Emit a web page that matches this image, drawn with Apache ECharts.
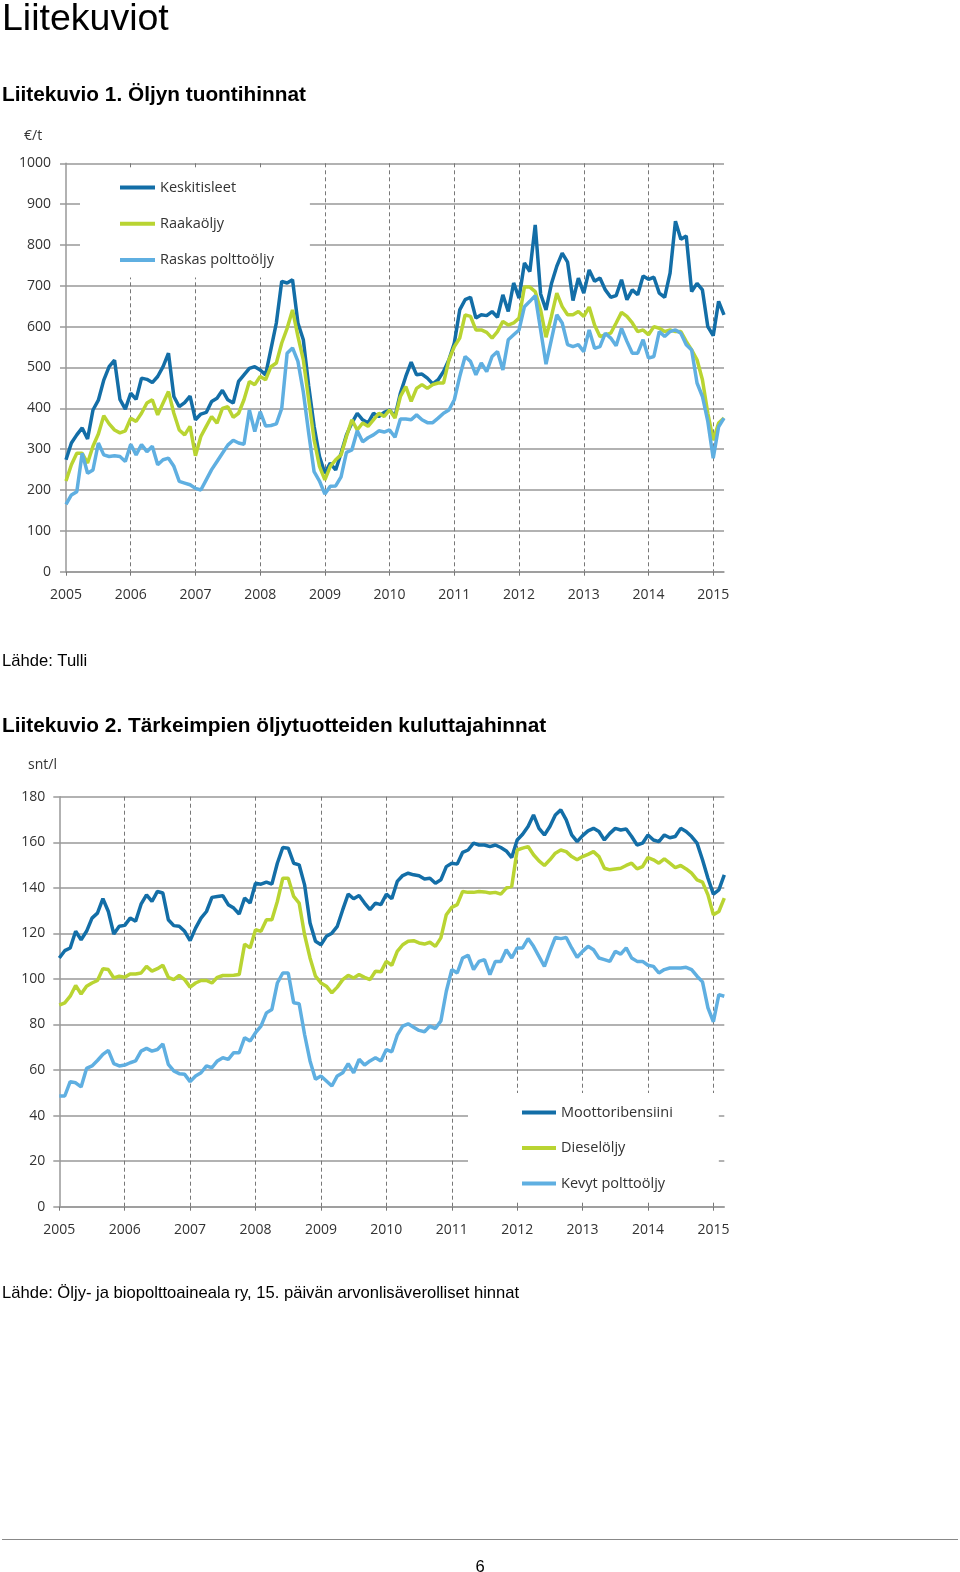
<!DOCTYPE html>
<html>
<head>
<meta charset="utf-8">
<script src="https://cdn.jsdelivr.net/npm/echarts@6/dist/echarts.min.js"></script>
<style>
html,body{margin:0;padding:0;background:#fff;}
#c{width:960px;height:1572px;}
</style>
</head>
<body>
<div id="c"></div>
<script>
// ---- categories: monthly, Jan 2005 .. Mar 2015 ----
const months = [];
for (let y = 2005; y <= 2015; y++) {
  for (let m = 1; m <= 12; m++) {
    if (y === 2015 && m > 3) break;
    months.push(y + '-' + String(m).padStart(2, '0'));
  }
}

// ---- Liitekuvio 1: Öljyn tuontihinnat (€/t) ----
const keskitisleet = [
  274, 315, 335, 352, 325, 396, 420, 469, 502, 518, 422, 398,
  437, 422, 474, 471, 463, 478, 502, 535, 429, 404, 414, 430,
  372, 386, 390, 417, 425, 444, 421, 413, 466, 482, 498, 502,
  494, 482, 545, 609, 711, 707, 715, 609, 568, 455, 356, 282,
  241, 266, 249, 290, 335, 364, 388, 372, 364, 388, 380, 390,
  396, 380, 437, 478, 513, 482, 484, 474, 460, 470, 490, 519,
  560, 641, 666, 672, 621, 629, 627, 637, 623, 678, 637, 707,
  670, 756, 735, 849, 680, 641, 705, 748, 780, 758, 664, 719,
  682, 739, 711, 719, 690, 672, 676, 715, 666, 690, 678, 724,
  716, 721, 682, 672, 731, 858, 814, 822, 686, 706, 690, 600,
  578, 662, 629
];
const raakaoljy = [
  222, 262, 290, 290, 266, 307, 337, 382, 362, 347, 340, 345,
  376, 368, 388, 413, 421, 384, 413, 441, 388, 347, 335, 356,
  284, 331, 356, 380, 364, 400, 404, 378, 388, 421, 466, 458,
  478, 470, 502, 511, 560, 596, 641, 576, 519, 421, 323, 258,
  225, 258, 274, 286, 331, 372, 347, 364, 356, 372, 388, 380,
  396, 376, 429, 453, 417, 449, 458, 449, 458, 462, 462, 519,
  551, 572, 629, 625, 592, 592, 586, 572, 588, 613, 604, 609,
  621, 697, 697, 686, 641, 574, 625, 682, 649, 629, 629, 637,
  625, 648, 604, 576, 580, 584, 609, 635, 625, 609, 588, 592,
  580, 600, 596, 588, 592, 588, 588, 564, 543, 519, 470, 388,
  322, 364, 376
];
const raskasPolttooljy = [
  165, 188, 196, 290, 241, 249, 315, 286, 282, 284, 282, 270,
  312, 286, 311, 294, 307, 262, 274, 278, 258, 221, 217, 213,
  204, 200, 225, 250, 270, 290, 310, 322, 315, 312, 396, 343,
  392, 357, 358, 362, 400, 535, 548, 515, 440, 339, 245, 222,
  190, 209, 210, 232, 292, 298, 345, 318, 328, 335, 345, 342,
  347, 329, 374, 374, 372, 384, 372, 365, 365, 376, 388, 396,
  421, 478, 527, 515, 482, 511, 490, 527, 539, 494, 568, 580,
  592, 649, 662, 676, 592, 508, 568, 629, 609, 556, 551, 556,
  539, 592, 547, 551, 584, 572, 553, 596, 564, 535, 535, 568,
  523, 527, 588, 576, 588, 592, 584, 556, 543, 462, 429, 368,
  278, 355, 376
];

// ---- Liitekuvio 2: kuluttajahinnat (snt/l) ----
const moottoribensiini = [
  109.2, 112.4, 113.6, 120.9, 117.2, 120.9, 126.7, 128.9, 135.2, 129.6, 119.7, 123.1,
  123.5, 126.7, 125.3, 132.8, 136.9, 134.0, 138.4, 137.7, 126.0, 123.4, 123.1, 120.9,
  116.8, 122.3, 126.7, 129.6, 135.8, 136.2, 136.5, 132.6, 131.1, 128.5, 135.5, 133.3,
  142.0, 141.6, 142.5, 141.6, 150.8, 157.7, 157.4, 150.8, 150.1, 141.3, 124.5, 116.5,
  115.0, 118.7, 120.1, 123.1, 130.4, 137.2, 135.2, 136.6, 133.3, 130.4, 133.3, 132.6,
  137.2, 135.2, 142.8, 145.4, 146.4, 145.7, 145.3, 143.9, 144.2, 142.0, 143.5, 149.3,
  150.8, 150.4, 155.6, 156.6, 159.6, 158.8, 158.8, 158.1, 158.8, 157.7, 156.2, 153.3,
  161.0, 163.5, 166.9, 172.0, 166.1, 163.2, 166.9, 172.0, 174.2, 169.8, 163.2, 160.3,
  162.9, 165.0, 166.1, 164.7, 161.0, 163.9, 166.1, 165.4, 165.8, 162.5, 158.8, 159.6,
  163.2, 161.0, 160.3, 163.2, 162.0, 162.5, 166.1, 164.7, 162.5, 159.6, 152.3, 144.2,
  137.2, 139.1, 145.7
];
const dieseloljy = [
  88.5, 89.5, 92.4, 97.1, 93.4, 96.8, 98.2, 99.3, 104.5, 104.1, 100.4, 101.2,
  100.7, 102.2, 102.2, 102.6, 105.5, 103.4, 104.5, 106.0, 100.7, 99.7, 101.5, 99.7,
  96.4, 98.2, 99.3, 99.3, 98.2, 100.7, 101.5, 101.5, 101.6, 101.9, 115.3, 113.6,
  121.6, 120.9, 126.0, 126.0, 134.0, 144.2, 144.2, 136.2, 133.3, 119.4, 109.2, 101.2,
  98.2, 96.8, 93.9, 96.4, 99.7, 101.6, 100.4, 101.9, 100.7, 99.7, 103.4, 103.1,
  107.7, 106.0, 112.1, 115.0, 116.5, 116.8, 115.8, 115.3, 116.1, 114.3, 118.0, 128.2,
  131.4, 132.6, 138.4, 138.0, 138.0, 138.4, 138.2, 137.7, 138.0, 137.2, 139.9, 140.6,
  156.6, 157.4, 158.1, 154.5, 151.8, 149.8, 152.3, 155.2, 156.6, 155.9, 153.7, 152.3,
  153.7, 154.7, 155.9, 153.7, 148.6, 147.9, 148.3, 148.6, 149.8, 150.8, 148.3, 149.3,
  153.3, 152.3, 150.8, 152.7, 150.8, 148.9, 149.8, 148.3, 146.4, 143.5, 142.5, 136.9,
  128.2, 129.6, 135.5
];
const kevytPolttooljy = [
  48.6, 48.6, 54.9, 54.4, 52.6, 60.7, 61.8, 64.2, 66.9, 68.6, 62.8, 61.8,
  62.2, 63.2, 64.0, 68.3, 69.5, 68.3, 69.0, 71.5, 62.5, 59.6, 58.4, 58.1,
  54.9, 57.4, 58.8, 61.8, 61.0, 64.0, 65.4, 64.7, 67.6, 67.6, 74.2, 72.7,
  76.4, 79.3, 85.1, 86.6, 98.2, 102.6, 102.6, 89.5, 89.1, 75.6, 64.0, 56.0,
  57.4, 55.2, 53.0, 57.4, 58.8, 62.8, 58.8, 64.7, 62.2, 64.0, 65.4, 64.0,
  69.0, 68.0, 75.3, 79.3, 80.3, 78.8, 77.4, 76.8, 79.3, 78.2, 81.5, 94.6,
  104.1, 102.6, 109.2, 110.4, 104.1, 107.7, 108.5, 101.9, 107.7, 107.7, 112.8, 109.2,
  113.6, 113.6, 117.7, 114.3, 109.9, 105.5, 112.1, 118.2, 117.7, 118.2, 113.6, 109.5,
  112.1, 114.3, 112.8, 109.2, 108.5, 107.7, 112.1, 110.9, 113.6, 109.2, 107.7, 107.7,
  106.0, 105.5, 102.6, 104.1, 104.8, 104.8, 104.8, 105.1, 104.1, 101.2, 98.7, 87.3,
  81.2, 93.1, 92.4
];

const C_DARK = '#136ea7';
const C_GREEN = '#b9d432';
const C_LIGHT = '#5fafe1';
const FONT = "'Open Sans', 'DejaVu Sans', sans-serif";
const HFONT = "'Liberation Sans', Arial, sans-serif";

const yearIdx = (i) => i % 12 === 0;
const yearIdxNo0 = (i) => i % 12 === 0 && i > 0;

function xAxisFor(gi, margin) {
  return {
    gridIndex: gi, type: 'category', data: months, boundaryGap: false,
    axisLine: { lineStyle: { color: '#999', width: 1.5 } },
    axisTick: { show: true, interval: yearIdx, length: 4, lineStyle: { color: '#777' } },
    axisLabel: { interval: yearIdx, formatter: (v) => v.slice(0, 4), margin: margin,
      color: '#333', fontSize: 14, fontFamily: FONT },
    splitLine: { show: true, interval: yearIdxNo0, lineStyle: { color: '#777', type: [4, 3], width: 1 } }
  };
}
function yAxisFor(gi, max, interval, margin) {
  return {
    gridIndex: gi, type: 'value', min: 0, max: max, interval: interval,
    axisLine: { show: true, lineStyle: { color: '#999', width: 1.5 } },
    axisTick: { show: true, length: 6, lineStyle: { color: '#999', width: 1.5 } },
    axisLabel: { margin: margin, color: '#333', fontSize: 14, fontFamily: FONT,
      formatter: (v) => String(v) },
    splitLine: { show: true, lineStyle: { color: '#999', width: 1.5 } }
  };
}
function lineSeries(name, data, color, axis) {
  return {
    name: name, type: 'line', data: data, xAxisIndex: axis, yAxisIndex: axis,
    showSymbol: false, symbol: 'none', smooth: false,
    lineStyle: { color: color, width: 3.5 }, itemStyle: { color: color }
  };
}
function txt(text, x, y, font, align, fill) {
  return { type: 'text', x: x, y: y, silent: true,
    style: { text: text, font: font, fill: fill || '#000', align: align || 'left', verticalAlign: 'middle' } };
}

const chart = echarts.init(document.getElementById('c'), null, { renderer: 'canvas' });
chart.setOption({
  backgroundColor: '#fff',
  animation: false,
  grid: [
    { left: 66, top: 163.3, width: 658, height: 408.4 },
    { left: 59.3, top: 796.7, width: 665, height: 410 }
  ],
  xAxis: [xAxisFor(0, 16), xAxisFor(1, 16)],
  yAxis: [yAxisFor(0, 1000, 100, 15), yAxisFor(1, 180, 20, 14)],
  legend: [
    {
      data: ['Keskitisleet', 'Raakaöljy', 'Raskas polttoöljy'],
      orient: 'vertical', left: 80, top: 168,
      padding: [12, 36, 10, 40], itemGap: 21.3,
      itemWidth: 35, itemHeight: 4, icon: 'rect',
      backgroundColor: '#fff',
      textStyle: { fontSize: 14.5, color: '#333', fontFamily: FONT, lineHeight: 14 }
    },
    {
      data: ['Moottoribensiini', 'Dieselöljy', 'Kevyt polttoöljy'],
      orient: 'vertical', left: 468, top: 1093,
      padding: [12, 46, 9, 54], itemGap: 20.5,
      itemWidth: 34, itemHeight: 4, icon: 'rect',
      backgroundColor: '#fff',
      textStyle: { fontSize: 14.5, color: '#333', fontFamily: FONT, lineHeight: 14 }
    }
  ],
  series: [
    lineSeries('Keskitisleet', keskitisleet, C_DARK, 0),
    lineSeries('Raakaöljy', raakaoljy, C_GREEN, 0),
    lineSeries('Raskas polttoöljy', raskasPolttooljy, C_LIGHT, 0),
    lineSeries('Moottoribensiini', moottoribensiini, C_DARK, 1),
    lineSeries('Dieselöljy', dieseloljy, C_GREEN, 1),
    lineSeries('Kevyt polttoöljy', kevytPolttooljy, C_LIGHT, 1)
  ],
  graphic: [
    txt('Liitekuviot', 2, 20, "37.5px " + HFONT),
    txt('Liitekuvio 1. Öljyn tuontihinnat', 2, 95, "bold 20.8px " + HFONT),
    txt('€/t', 24, 136, "14px " + FONT, 'left', '#333'),
    txt('Lähde: Tulli', 2, 661, "16.6px " + HFONT),
    txt('Liitekuvio 2. Tärkeimpien öljytuotteiden kuluttajahinnat', 2, 726, "bold 20.8px " + HFONT),
    txt('snt/l', 28, 765, "14px " + FONT, 'left', '#333'),
    txt('Lähde: Öljy- ja biopolttoaineala ry, 15. päivän arvonlisäverolliset hinnat', 2, 1293, "16.6px " + HFONT),
    { type: 'line', silent: true, shape: { x1: 2, y1: 1539.5, x2: 958, y2: 1539.5 },
      style: { stroke: '#888', lineWidth: 1 } },
    txt('6', 480, 1567, "16.6px " + HFONT, 'center')
  ]
});
</script>
</body>
</html>
